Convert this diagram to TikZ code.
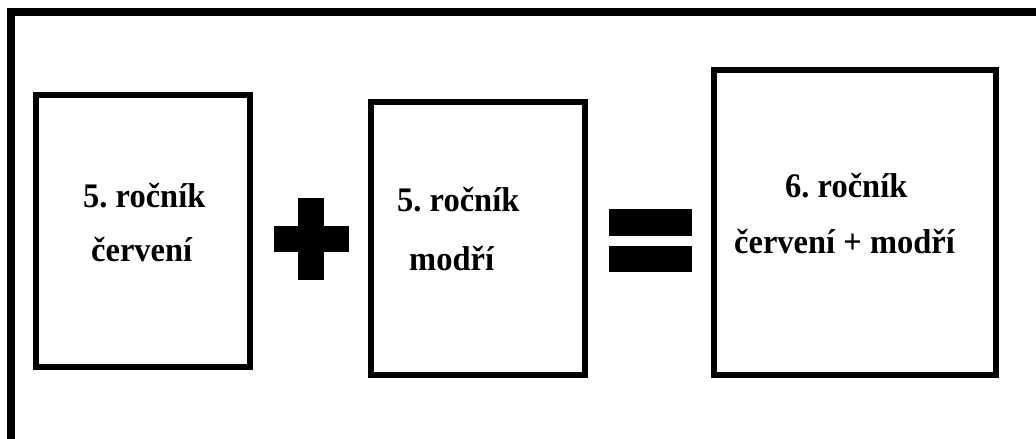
\documentclass[tikz,border=0pt]{standalone}
\usepackage{fontspec}
\setmainfont{Liberation Serif}
\usetikzlibrary{positioning}
\newcommand{\tallbf}[1]{\scalebox{1}[1.06]{#1}}
\frenchspacing

\begin{document}
\begin{tikzpicture}[x=1pt, y=-1pt,
		classbox/.style={draw, line width=6pt, fill=white, inner sep=0pt},
		classtext/.style={inner sep=0pt, anchor=base west, font=\fontsize{32.5}{36}\selectfont\bfseries},
		sign/.style={fill=black, inner sep=0pt}]
		\useasboundingbox (0,0) rectangle (1036,439);
		% outer frame, open to the right and bottom
		\coordinate (frameBottom) at (11,439);
		\coordinate (frameCorner) at (11,12);
		\coordinate (frameRight) at (1036,12);
		\draw[line width=8pt, miter limit=4] (frameBottom) -- (frameCorner) -- (frameRight);
		
		\node[classbox, minimum width=214pt, minimum height=272pt] (redBox) at (143,231) {};
		\node[classbox, minimum width=214pt, minimum height=273pt] (blueBox) at (478,238.5) {};
		\node[classbox, minimum width=282pt, minimum height=305pt] (sixthBox) at (855,222.5) {};
		
		\node[classtext] (redOne) at (83,207) {\tallbf{5. ročník}};
		\node[classtext] (redTwo) at (91,261) {\tallbf{červení}};
		\node[classtext] (blueOne) at (397,211) {\tallbf{5. ročník}};
		\node[classtext] (blueTwo) at (409,270) {\tallbf{modří}};
		\node[classtext] (sixthOne) at (785,197) {\tallbf{6. ročník}};
		\node[classtext] (sixthTwo) at (734,253) {\tallbf{červení + modří}};
		
		% plus and equals signs
		\node[sign, minimum width=26pt, minimum height=82pt] (plusV) at (311,239) {};
		\node[sign, minimum width=75pt, minimum height=26pt] (plusH) at (311.5,239) {};
		\node[sign, minimum width=83pt, minimum height=27pt] (eqTop) at (650.5,222.5) {};
		\node[sign, minimum width=83pt, minimum height=26pt] (eqBottom) at (650.5,259) {};
		
	\end{tikzpicture}
\end{document}
